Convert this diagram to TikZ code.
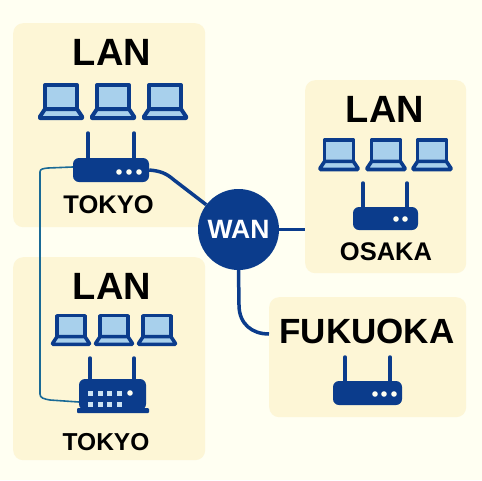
\documentclass[tikz,border=0pt]{standalone}
\usepackage{fontspec}
\setmainfont{Liberation Sans}
\definecolor{bgc}{HTML}{FFFFF2}
\definecolor{panelc}{HTML}{FDF6D6}
\definecolor{navy}{HTML}{0B3C8C}
\definecolor{screenc}{HTML}{A8D0EC}
\definecolor{tealc}{HTML}{1A6A96}
\tikzset{
  panel/.style={fill=panelc,draw=none,rounded corners=10pt,inner sep=0pt,anchor=north west},
  routerbody/.style={fill=navy,draw=none,rounded corners=6pt,inner sep=0pt},
  antenna/.style={navy,line width=3.5pt,line cap=round},
  link/.style={navy,line width=3.5pt},
  thinlink/.style={tealc,line width=1.6pt},
  lan/.style={font=\bfseries\fontsize{38}{38}\selectfont,inner sep=0pt,anchor=base,text=black},
  city/.style={font=\bfseries\fontsize{25}{25}\selectfont,inner sep=0pt,anchor=base,text=black},
  dotw/.style={fill=bgc,draw=none},
  laptopline/.style={draw=navy,fill=screenc,line join=round},
}
\newcommand{\lap}[3]{%
  \begin{scope}[shift={(#1,#2)},scale=#3]
    \path[laptopline,line width=#3*4pt] (-16,2) -- (16,2) -- (16,26) -- (-16,26) -- cycle;
    \path[laptopline,line width=#3*4pt] (-16,26) -- (16,26) -- (21,33.5) -- (21,35) -- (-21,35) -- (-21,33.5) -- cycle;
  \end{scope}}
\begin{document}
\begin{tikzpicture}[x=1pt,y=-1pt]
\useasboundingbox (0,0) rectangle (482,480);
\fill[bgc] (0,0) rectangle (482,480);
% panels
\node[panel,minimum width=192pt,minimum height=204pt] (pa) at (13,23) {};
\node[panel,minimum width=192pt,minimum height=203pt] (pb) at (13,257) {};
\node[panel,minimum width=161pt,minimum height=193pt] (pc) at (305,80) {};
\node[panel,minimum width=197pt,minimum height=120pt] (pd) at (269,297) {};
% titles
\node[lan] (ta) at (112,65) {LAN};
\node[lan] (tb) at (112,299) {LAN};
\node[lan] (tc) at (385,122.5) {LAN};
\node[lan,font=\bfseries\fontsize{35}{35}\selectfont] (td) at (367,343) {FUKUOKA};
\node[city,font=\bfseries\fontsize{25.5}{25.5}\selectfont] (ca) at (108.5,213) {TOKYO};
\node[city,font=\bfseries\fontsize{24.5}{24.5}\selectfont] (cb) at (106,450) {TOKYO};
\node[city,font=\bfseries\fontsize{25.5}{25.5}\selectfont] (cc) at (386,260) {OSAKA};
% laptops
\lap{61}{83}{1} \lap{113}{83}{1} \lap{165}{83}{1}
\lap{71}{314}{0.87} \lap{114}{314}{0.87} \lap{157}{314}{0.87}
\lap{339}{138}{0.9} \lap{386}{138}{0.9} \lap{432}{138}{0.9}
% routers
\node[routerbody,minimum width=76pt,minimum height=24pt] (ra) at (111,170) {};
\node[routerbody,minimum width=65pt,minimum height=23pt] (rc) at (385.5,218.5) {};
\node[routerbody,minimum width=69pt,minimum height=24pt] (rd) at (367.5,393) {};
\node[inner sep=0pt,minimum width=67pt,minimum height=31pt] (rb) at (112.5,394.5) {};
\fill[navy,rounded corners=6pt] (79,410) |- (146,379) -- (146,410) -- cycle;
\fill[navy,rounded corners=1pt] (77,408) rectangle (149,413);
% antennas
\draw[antenna] (88,133) -- (88,160); \draw[antenna] (134,133) -- (134,160);
\draw[antenna] (363,183) -- (363,209); \draw[antenna] (407,183) -- (407,209);
\draw[antenna] (345,357) -- (345,383); \draw[antenna] (390,357) -- (390,383);
\draw[antenna] (90,358) -- (90,381); \draw[antenna] (134,358) -- (134,381);
% dots
\foreach \x in {119,129,139} \fill[dotw] (\x,172) circle (2.8pt);
\foreach \x in {396,405} \fill[dotw] (\x,219) circle (2.8pt);
\foreach \x in {375,384,394} \fill[dotw] (\x,394) circle (2.8pt);
\foreach \x in {90,100,109,119} {
  \fill[screenc!60!white] (\x-2.5,390.5) rectangle (\x+2.5,395.5);
  \fill[screenc!60!white] (\x-2.5,401.5) rectangle (\x+2.5,406.5);
}
\fill[dotw] (130,393) circle (2.8pt);
% WAN
\node[circle,fill=navy,draw=none,minimum size=81pt,inner sep=0pt,text=white,font=\bfseries\fontsize{26.5}{26.5}\selectfont] (wan) at (238.5,229.5) {WAN};
% connectors
\draw[link] (ra.east) .. controls (160,171) and (166,173) .. (174,180) -- (wan);
\draw[link] (wan.east) -- (pc.west |- wan.east);
\draw[link] (wan.south) -- (239,305) .. controls (239,324) and (252,334) .. (pd.west |- 0,334);
\draw[thinlink] (ra.west |- 0,167) -- (48,168) .. controls (43,168.5) and (40,169) .. (40,172) -- (40,394) .. controls (40,398) and (44,399) .. (50,400) -- (rb.west |- 0,402);
\end{tikzpicture}
\end{document}
